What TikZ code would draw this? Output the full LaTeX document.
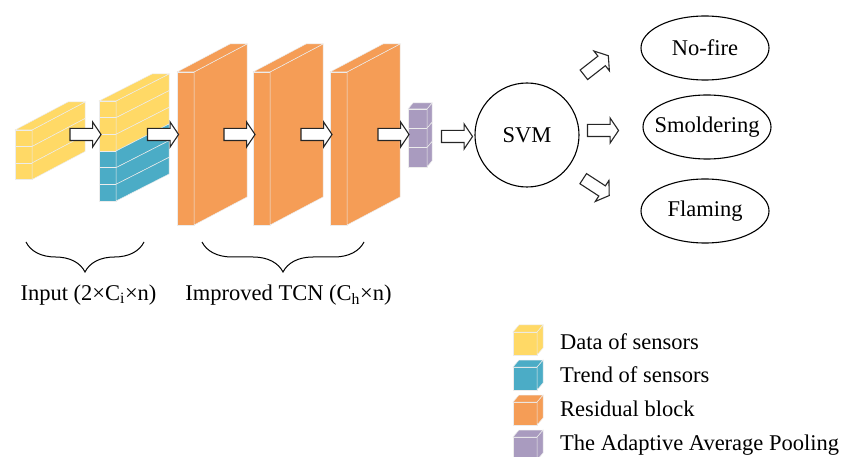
\documentclass[tikz,border=0pt]{standalone}
\usepackage{fontspec}
\setmainfont{Liberation Serif}
\usetikzlibrary{shapes.arrows,shapes.geometric,decorations.pathreplacing,positioning}

\definecolor{datayellow}{HTML}{FFD966}
\definecolor{trendblue}{HTML}{4BACC6}
\definecolor{resorange}{HTML}{F59D56}
\definecolor{poolpurple}{HTML}{A99BBF}

\def\residuallist{177/r1, 253/r2, 330/r3}
\def\arrowlist{{(83.5,134.5)/a1}, {(161,134.5)/a2}, {(237.5,134.5)/a3}, {(314.5,134.5)/a4}, {(391.5,134.5)/a5}, {(455,136.5)/a6}}
\def\outarrowlist{{(594.5,66.5)/38/o1}, {(601,130.5)/0/o2}, {(594.5,186)/-33/o3}}
\def\classlist{{(705,48)/nofire/No-fire}, {(707,127)/smold/Smoldering}, {(705,211)/flame/Flaming}}
\def\legendlist{0/datayellow/Data of sensors, 1/trendblue/Trend of sensors, 2/resorange/Residual block, 3/poolpurple/The Adaptive Average Pooling}

\tikzstyle{face}=[draw=white!85!gray,line width=0.5pt]
\tikzstyle{hollow arrow}=[single arrow,draw=black!85,fill=white,line width=1.1pt,minimum height=31pt,inner xsep=0pt,inner ysep=5.5pt,single arrow head extend=6.5pt,single arrow tip angle=112]
\tikzstyle{class}=[ellipse,draw,line width=1.1pt,inner sep=0pt,minimum width=128pt,minimum height=64pt]
\tikzstyle{brace}=[draw,line width=1pt,decorate,decoration={brace,mirror,amplitude=30pt}]

% one row of a block: x, y (top), width, height, depth x, depth y, colour
\newcommand{\blockrow}[7]{
  \path[face,fill=#7] (#1,#2) rectangle ++(#3,#4);
  \path[face,fill=#7] (#1+#3,#2) -- ++(#5,#6) -- ++(0,#4) -- (#1+#3,#2+#4) -- cycle;
}
% top of a block: x, y, width, depth x, depth y, colour
\newcommand{\blocktop}[6]{
  \path[face,fill=#6] (#1,#2) -- ++(#4,#5) -- ++(#3,0) -- (#1+#3,#2) -- cycle;
}

\begin{document}
\begin{tikzpicture}[x=1pt,y=-1pt,font=\fontsize{22.5}{27}\selectfont]
  \useasboundingbox (0,0) rectangle (844,457);

  % Input blocks
  \foreach \k in {0,1,2} {
    \blockrow{15}{130+16.5*\k}{17}{16.5}{53}{-28}{datayellow}
  }
  \blocktop{15}{130}{17}{53}{-28}{datayellow}

  \foreach \k in {0,1,2} {
    \blockrow{99}{101+16.67*\k}{17}{16.67}{53}{-27}{datayellow}
  }
  \foreach \k in {3,4,5} {
    \blockrow{99}{101+16.67*\k}{17}{16.67}{53}{-27}{trendblue}
  }
  \blocktop{99}{101}{17}{53}{-27}{datayellow}

  % Residual blocks
  \foreach \x/\name in \residuallist {
    \blockrow{\x}{72}{17}{153}{53}{-28}{resorange}
    \blocktop{\x}{72}{17}{53}{-28}{resorange}
  }

  % Pooling
  \foreach \k in {0,1,2} {
    \blockrow{408}{109+19.3*\k}{19}{19.3}{5}{-6}{poolpurple}
  }
  \blocktop{408}{109}{19}{5}{-6}{poolpurple}

  % Arrows between the blocks
  \foreach \pos/\name in \arrowlist
    \node[hollow arrow] (\name) at \pos {};

  \node[circle,draw,line width=1.1pt,minimum size=104pt] (svm) at (527,135) {SVM};

  \foreach \pos/\ang/\name in \outarrowlist
    \node[hollow arrow,rotate=\ang] (\name) at \pos {};

  \foreach \pos/\name/\txt in \classlist
    \node[class] (\name) at \pos {\makebox[0pt]{\txt}};

  % Braces and their labels
  \coordinate (inL) at (26,242);
  \coordinate (inR) at (144,242);
  \coordinate (tcnL) at (202,242);
  \coordinate (tcnR) at (364,242);
  \path[brace] (inL) -- (inR);
  \path[brace] (tcnL) -- (tcnR);
  \node (inlabel) at (88.5,295) {Input (2×C\textsubscript{i}×n)};
  \node (tcnlabel) at (288.5,295) {Improved TCN (C\textsubscript{h}×n)};

  % Legend
  \foreach \k/\col/\txt in \legendlist {
    \blockrow{513}{332+35*\k}{24}{23}{6}{-7}{\col}
    \blocktop{513}{332+35*\k}{24}{6}{-7}{\col}
    \node[anchor=base west,inner sep=0pt] (leg\k) at (560,349+33.7*\k) {\txt};
  }
\end{tikzpicture}
\end{document}
